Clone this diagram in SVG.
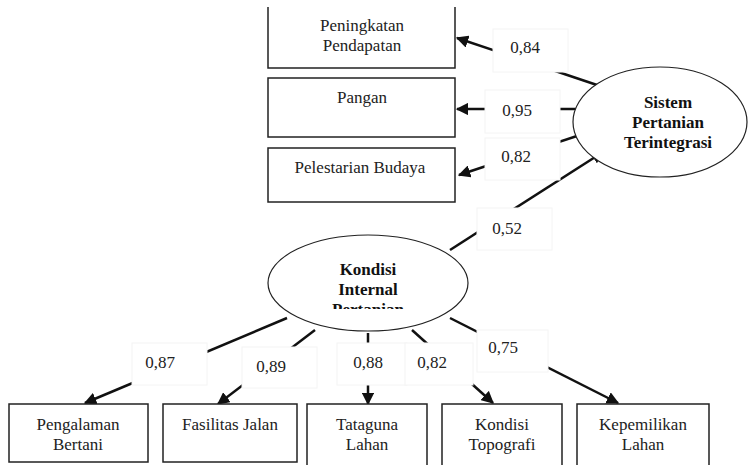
<svg xmlns="http://www.w3.org/2000/svg" width="750" height="465" viewBox="0 0 750 465">
<style>
.box{fill:#fff;stroke:#222;stroke-width:1.5}
.ell{fill:#fff;stroke:#222;stroke-width:1.2}
text{font-family:'Liberation Serif','DejaVu Serif','Times New Roman',serif;font-size:17px;fill:#222;text-anchor:middle}
.b{font-weight:bold;fill:#111}
.lbl{fill:#fff;stroke:#f4f4f4;stroke-width:1}
.c{stroke:#111;stroke-width:2.5;fill:none}
</style>
<defs>
<marker id="ah" viewBox="0 0 10 10" refX="9" refY="5" markerWidth="5" markerHeight="5" orient="auto" markerUnits="strokeWidth">
<path d="M0,0 L10,5 L0,10 z" fill="#111"/>
</marker>
<clipPath id="kclip"><rect x="250" y="230" width="240" height="79"/></clipPath>
</defs>
<rect width="750" height="465" fill="#fff"/>
<g id="connectors">
<line class="c" x1="600" y1="86" x2="457" y2="38" marker-end="url(#ah)"/>
<line class="c" x1="577" y1="109" x2="457" y2="109" marker-end="url(#ah)"/>
<line class="c" x1="580" y1="135" x2="459" y2="175" marker-end="url(#ah)"/>
<line class="c" x1="450" y1="250" x2="603" y2="152" marker-end="url(#ah)"/>
<line class="c" x1="287" y1="318" x2="85" y2="403" marker-end="url(#ah)"/>
<line class="c" x1="315" y1="330" x2="218" y2="404" marker-end="url(#ah)"/>
<line class="c" x1="368" y1="333" x2="368" y2="404" marker-end="url(#ah)"/>
<line class="c" x1="412" y1="330" x2="493" y2="403" marker-end="url(#ah)"/>
<line class="c" x1="450" y1="318" x2="618" y2="403" marker-end="url(#ah)"/>
</g>
<g id="labels">
<rect class="lbl" x="493" y="29" width="75" height="43"/>
<text x="525" y="53">0,84</text>
<rect class="lbl" x="485" y="90" width="75" height="43"/>
<text x="517" y="116">0,95</text>
<rect class="lbl" x="485" y="138" width="75" height="42"/>
<text x="516" y="162">0,82</text>
<rect class="lbl" x="477" y="208" width="75" height="42"/>
<text x="507" y="234">0,52</text>
<rect class="lbl" x="132" y="343" width="75" height="42"/>
<text x="160" y="368">0,87</text>
<rect class="lbl" x="242" y="347" width="75" height="41"/>
<text x="271" y="372">0,89</text>
<rect class="lbl" x="337" y="343" width="70" height="42"/>
<text x="368" y="368">0,88</text>
<rect class="lbl" x="405" y="343" width="68" height="42"/>
<text x="432" y="368">0,82</text>
<rect class="lbl" x="477" y="330" width="71" height="42"/>
<text x="503" y="353">0,75</text>
</g>
<g id="peningkatan">
<path class="box" d="M268,7 L268,68 L455,68 L455,7"/>
<text x="362" y="31">Peningkatan</text>
<text x="362" y="51">Pendapatan</text>
</g>
<g id="pangan">
<rect class="box" x="268" y="78" width="187" height="59"/>
<text x="362" y="103">Pangan</text>
</g>
<g id="pelestarian">
<rect class="box" x="268" y="148" width="187" height="54"/>
<text x="360" y="173">Pelestarian Budaya</text>
</g>
<g id="sistem">
<ellipse class="ell" cx="660" cy="122" rx="87" ry="55"/>
<text class="b" x="668" y="108">Sistem</text>
<text class="b" x="668" y="128">Pertanian</text>
<text class="b" x="668" y="148">Terintegrasi</text>
</g>
<g id="kondisi">
<ellipse class="ell" cx="368" cy="283" rx="100" ry="48"/>
<text class="b" x="368" y="275">Kondisi</text>
<text class="b" x="368" y="295">Internal</text>
<text class="b" x="368" y="315" clip-path="url(#kclip)">Pertanian</text>
</g>
<g id="pengalaman">
<rect class="box" x="9" y="404" width="139" height="58"/>
<text x="78" y="430">Pengalaman</text>
<text x="78" y="450">Bertani</text>
</g>
<g id="fasilitas">
<rect class="box" x="163" y="404" width="134" height="58"/>
<text x="230" y="430">Fasilitas Jalan</text>
</g>
<g id="tataguna">
<path class="box" d="M307,466 L307,404 L427,404 L427,466"/>
<text x="367" y="430">Tataguna</text>
<text x="367" y="450">Lahan</text>
</g>
<g id="topografi">
<path class="box" d="M442,466 L442,404 L562,404 L562,466"/>
<text x="502" y="430">Kondisi</text>
<text x="502" y="450">Topografi</text>
</g>
<g id="kepemilikan">
<path class="box" d="M577,466 L577,404 L709,404 L709,466"/>
<text x="643" y="430">Kepemilikan</text>
<text x="643" y="450">Lahan</text>
</g>
</svg>
